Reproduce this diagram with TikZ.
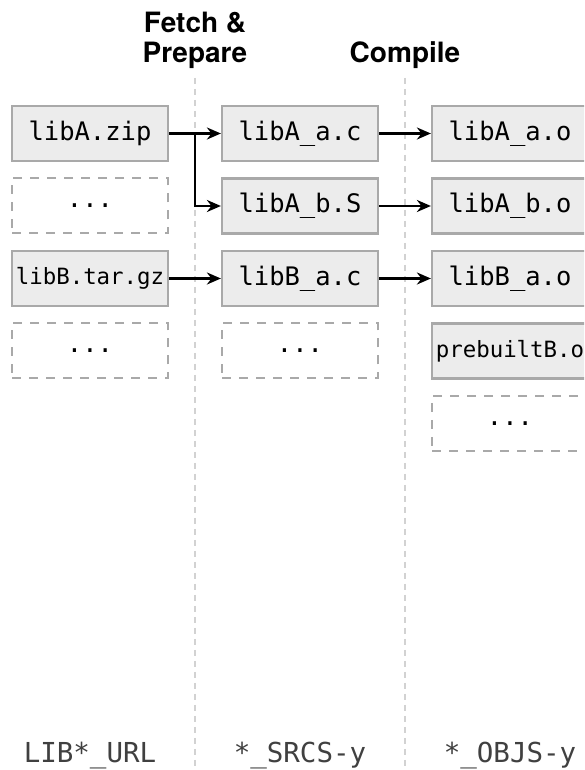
\documentclass[tikz,border=0pt]{standalone}
\usepackage{fontspec}
\setsansfont{TeX Gyre Heros}
\setmonofont{DejaVu Sans Mono}
\usetikzlibrary{arrows.meta,positioning}
\definecolor{boxfill}{HTML}{ECECEC}
\definecolor{boxline}{HTML}{A9A9A9}
\definecolor{sepline}{HTML}{D2D2D2}
\definecolor{varname}{HTML}{404040}
\newcommand{\us}{\string_}

\begin{document}
\begin{tikzpicture}[x=1pt,y=1pt,>={Stealth[length=14pt,width=12pt]},
  file/.style={draw=boxline,line width=2.2pt,fill=boxfill,minimum width=156pt,
    minimum height=55pt,inner sep=0pt,font=\fontsize{25.5}{28}\ttfamily},
  longname/.style={font=\fontsize{22.4}{26}\ttfamily},
  more/.style={draw=boxline,line width=2pt,dash pattern=on 9pt off 8pt,
    minimum width=156pt,minimum height=55pt,inner sep=0pt,font=\fontsize{25.5}{28}\ttfamily},
  head/.style={align=center,inner sep=0pt,font=\fontsize{28}{30}\sffamily\bfseries},
  var/.style={text=varname,inner sep=0pt,font=\fontsize{27.5}{30}\ttfamily},
  flow/.style={->,line width=2.4pt}]
\useasboundingbox (0,0) rectangle (584,770);
\clip (0,0) rectangle (584,770);
% Stage titles and the dashed lines between the three columns.
\node[head,anchor=south] (fetch) at (195,701) {Fetch \&\\Prepare};
\node[head,anchor=south] (compile) at (405,701) {Compile};
\coordinate (sep_a) at (195,692);
\coordinate (sep_b) at (405,692);
\draw[sepline,line width=1.5pt,dash pattern=on 6pt off 5pt] (sep_a) -- (sep_a |- 0,0);
\draw[sepline,line width=1.5pt,dash pattern=on 6pt off 5pt] (sep_b) -- (sep_b |- 0,0);
% Archives
\node[file] (liba_zip) at (90,636.5) {libA.zip};
\node[more] (dots_a) at (90,564) {...};
\node[file,longname] (libb_tgz) at (90,491.5) {libB.tar.gz};
\node[more] (dots_b) at (90,419) {...};
% Sources
\node[file] (liba_ac) at (300,636.5) {libA\us a.c};
\node[file] (liba_bs) at (300,564) {libA\us b.S};
\node[file] (libb_ac) at (300,491.5) {libB\us a.c};
\node[more] (dots_c) at (300,419) {...};
% Objects, cut off at the right edge
\node[file] (liba_ao) at (510,636.5) {libA\us a.o};
\node[file] (liba_bo) at (510,564) {libA\us b.o};
\node[file] (libb_ao) at (510,491.5) {libB\us a.o};
\node[file,longname] (prebuilt_b) at (510,419) {prebuiltB.o};
\node[more] (dots_d) at (510,346.5) {...};
\draw[flow] (liba_zip.east) -- (liba_ac.west);
\draw[flow] (liba_zip.east -| sep_a) |- (liba_bs.west);
\draw[flow] (libb_tgz.east) -- (libb_ac.west);
\draw[flow] (liba_ac.east) -- (liba_ao.west);
\draw[flow] (liba_bs.east) -- (liba_bo.west);
\draw[flow] (libb_ac.east) -- (libb_ao.west);
% Make variables
\node[var,anchor=base] (url_var) at (90,7) {LIB*\us URL};
\node[var,anchor=base] (srcs_var) at (300,7) {*\us SRCS-y};
\node[var,anchor=base] (objs_var) at (510,7) {*\us OBJS-y};
\end{tikzpicture}
\end{document}
